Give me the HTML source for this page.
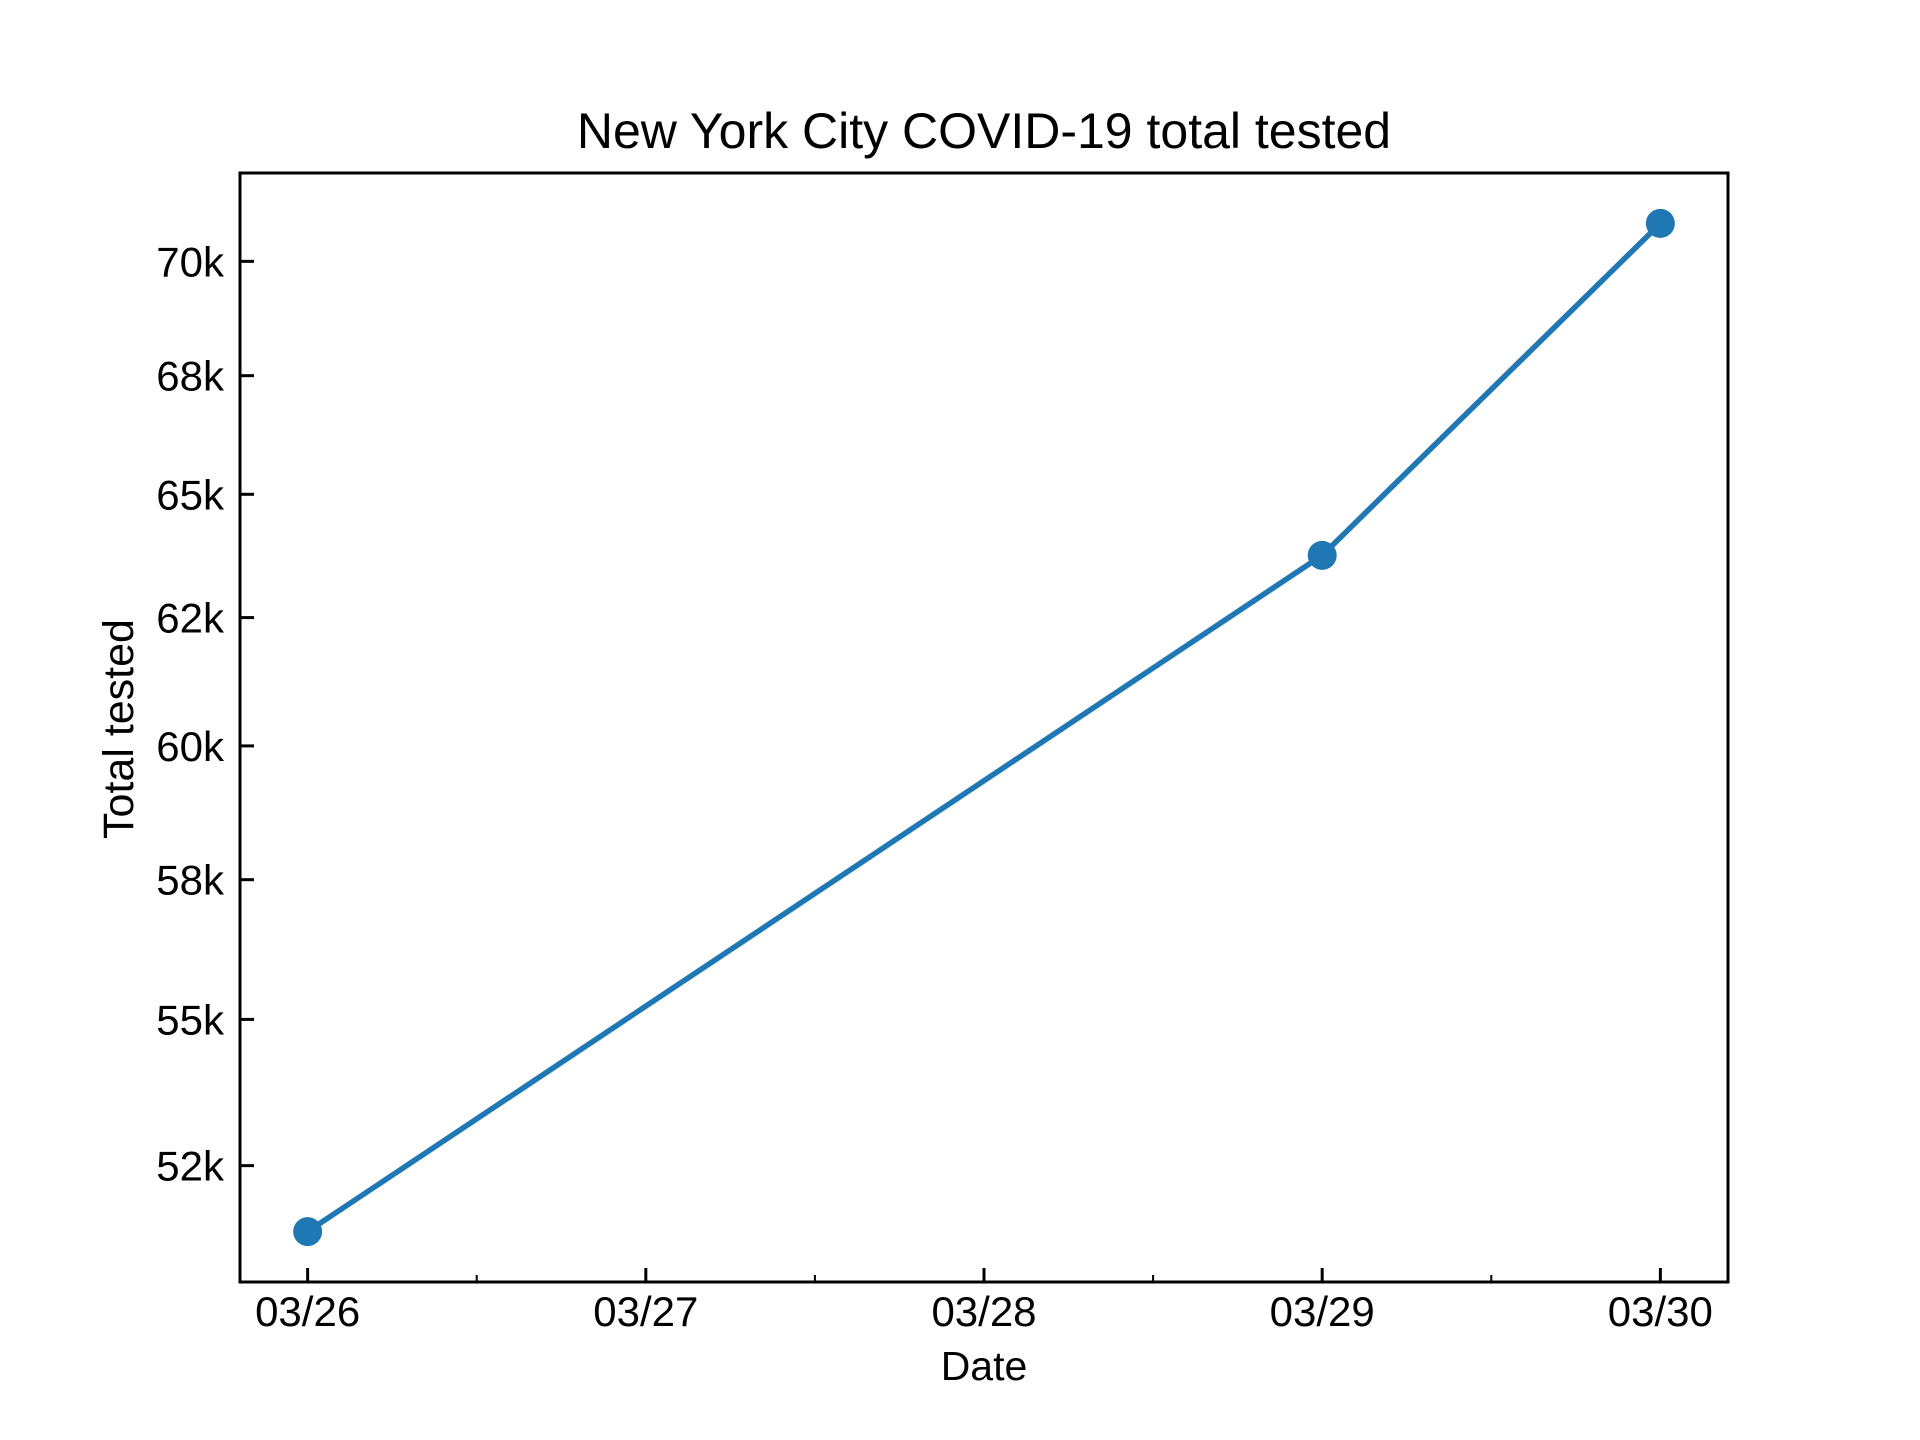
<!DOCTYPE html>
<html><head><meta charset="utf-8"><style>
body{margin:0;background:#fff}
svg{display:block;font-family:"Liberation Sans",Arial,sans-serif}
</style></head><body>
<svg id="chart" width="1920" height="1440" viewBox="0 0 1920 1440" xmlns="http://www.w3.org/2000/svg">
<rect width="1920" height="1440" fill="#fff"/>
<text x="984" y="148" font-size="50" text-anchor="middle">New York City COVID-19 total tested</text>
<text x="984" y="1380" font-size="41" text-anchor="middle">Date</text>
<text transform="translate(133,729) rotate(-90)" font-size="43" text-anchor="middle">Total tested</text>
<g id="plot"></g>
</svg>
<script>
const dates = [0, 3, 4];            // days since 03/26
const totals = [51410, 63750, 70850];
const xTicks = [0, 1, 2, 3, 4];
const xTickLabels = ["03/26", "03/27", "03/28", "03/29", "03/30"];
const xMinorTicks = [0.5, 1.5, 2.5, 3.5];
const yTicks = [52500, 55000, 57500, 60000, 62500, 65000, 67500, 70000];
const yTickLabels = ["52k", "55k", "58k", "60k", "62k", "65k", "68k", "70k"];

const L = 240, R = 1728, T = 173, B = 1282;
const NS = "http://www.w3.org/2000/svg";
const g = document.getElementById('plot');
const xmin = Math.min(...dates), xmax = Math.max(...dates);
const xpad = (xmax - xmin) * 0.05;
const x0 = xmin - xpad, x1 = xmax + xpad;
const lmin = Math.log(Math.min(...totals)), lmax = Math.log(Math.max(...totals));
const lpad = (lmax - lmin) * 0.05;
const y0 = lmin - lpad, y1 = lmax + lpad;
const xs = d => L + (d - x0) / (x1 - x0) * (R - L);
const ys = v => B - (Math.log(v) - y0) / (y1 - y0) * (B - T);
function mk(tag, attrs) { const e = document.createElementNS(NS, tag); for (const k in attrs) e.setAttribute(k, attrs[k]); g.appendChild(e); return e; }

const pts = dates.map((d, i) => xs(d).toFixed(1) + ',' + ys(totals[i]).toFixed(1)).join(' ');
const line = mk('polyline', { points: pts, fill: 'none', stroke: '#1f77b4', 'stroke-width': 5.5 });


dates.forEach((d, i) => {
  const c = mk('circle', { cx: xs(d), cy: ys(totals[i]), r: 14.5, fill: '#1f77b4' });
  
  
});
const fr = mk('rect', { x: L, y: T, width: R - L, height: B - T, fill: 'none', stroke: '#000', 'stroke-width': 3 });


xTicks.forEach((d, i) => {
  const t = mk('line', { x1: xs(d), x2: xs(d), y1: B, y2: B - 14, stroke: '#000', 'stroke-width': 3 });
  
  
  const tx = mk('text', { x: xs(d), y: 1326, 'font-size': 42, 'text-anchor': 'middle' });
  tx.textContent = xTickLabels[i];
  
  
});
xMinorTicks.forEach(d => {
  const t = mk('line', { x1: xs(d), x2: xs(d), y1: B, y2: B - 7, stroke: '#000', 'stroke-width': 2 });
  
  
});
yTicks.forEach((v, i) => {
  const y = ys(v);
  const t = mk('line', { x1: L, x2: L + 14, y1: y, y2: y, stroke: '#000', 'stroke-width': 3 });
  
  
  const tx = mk('text', { x: 224, y: y + 15, 'font-size': 42, 'text-anchor': 'end' });
  tx.textContent = yTickLabels[i];
  
  
});
</script>
</body></html>
